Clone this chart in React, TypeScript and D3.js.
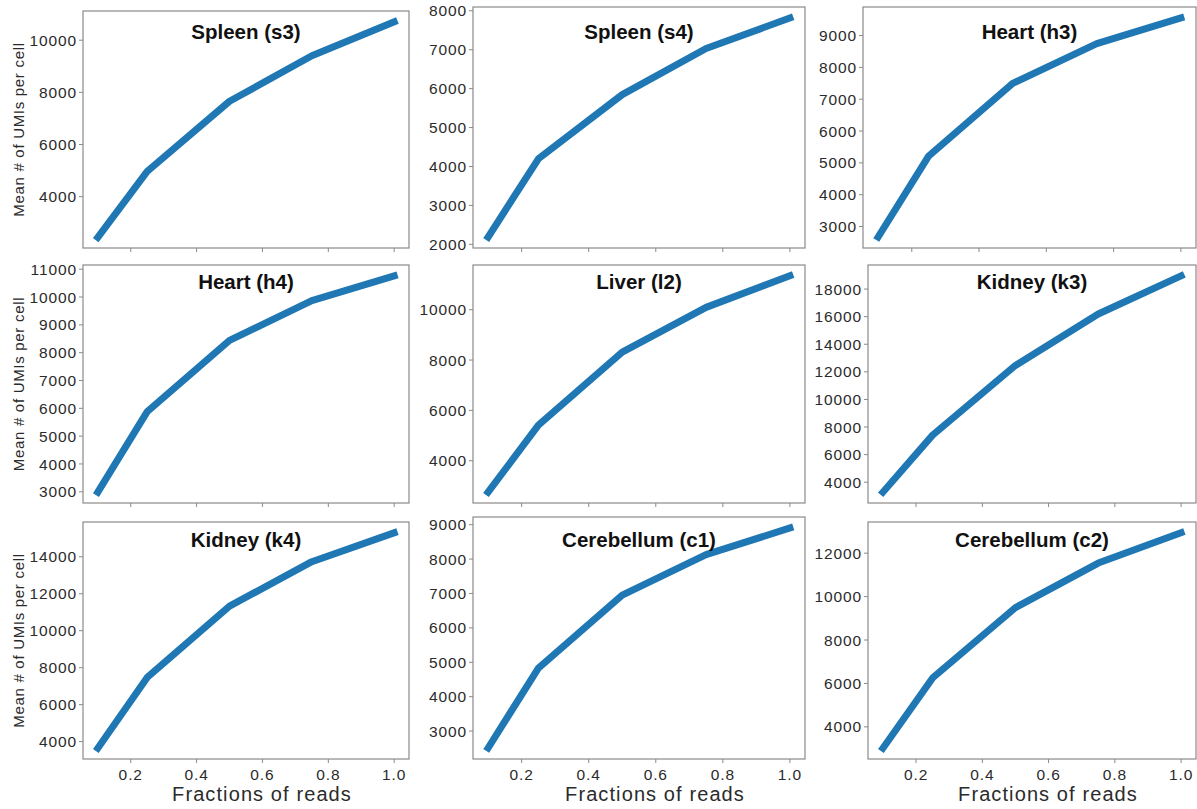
import React from 'react';
import * as d3 from 'd3';

// fraction of reads used for each subsample
const fractions = [0.1, 0.25, 0.5, 0.75, 1.0];
const xTicks = [0.2, 0.4, 0.6, 0.8, 1.0];

const titles = [
  'Spleen (s3)',
  'Spleen (s4)',
  'Heart (h3)',
  'Heart (h4)',
  'Liver (l2)',
  'Kidney (k3)',
  'Kidney (k4)',
  'Cerebellum (c1)',
  'Cerebellum (c2)',
];

// mean # of UMIs per cell
const spleenS3 = [2443, 4972, 7657, 9405, 10707];
const spleenS4 = [2188, 4198, 5846, 7030, 7816];
const heartH3 = [2670, 5211, 7497, 8743, 9552];
const heartH4 = [2986, 5879, 8440, 9869, 10762];
const liverL2 = [2750, 5412, 8312, 10092, 11346];
const kidneyK3 = [3278, 7414, 12465, 16196, 18960];
const kidneyK4 = [3642, 7470, 11331, 13733, 15298];
const cerebellumC1 = [2508, 4833, 6953, 8131, 8903];
const cerebellumC2 = [3015, 6253, 9491, 11544, 12940];

const series = [
  spleenS3,
  spleenS4,
  heartH3,
  heartH4,
  liverL2,
  kidneyK3,
  kidneyK4,
  cerebellumC1,
  cerebellumC2,
];

const yTicks = [
  [4000, 6000, 8000, 10000],
  [2000, 3000, 4000, 5000, 6000, 7000, 8000],
  [3000, 4000, 5000, 6000, 7000, 8000, 9000],
  [3000, 4000, 5000, 6000, 7000, 8000, 9000, 10000, 11000],
  [4000, 6000, 8000, 10000],
  [4000, 6000, 8000, 10000, 12000, 14000, 16000, 18000],
  [4000, 6000, 8000, 10000, 12000, 14000],
  [3000, 4000, 5000, 6000, 7000, 8000, 9000],
  [4000, 6000, 8000, 10000, 12000],
];

// panel boxes in page pixels
const boxes = [
  { left: 83, top: 11, right: 409, bottom: 248, titleY: 39 },
  { left: 473, top: 7, right: 805, bottom: 248, titleY: 39 },
  { left: 863, top: 7, right: 1196, bottom: 248, titleY: 39 },
  { left: 83, top: 265, right: 409, bottom: 503, titleY: 289 },
  { left: 473, top: 265, right: 805, bottom: 503, titleY: 289 },
  { left: 868, top: 265, right: 1196, bottom: 503, titleY: 289 },
  { left: 83, top: 522, right: 409, bottom: 759, titleY: 547 },
  { left: 473, top: 517, right: 805, bottom: 759, titleY: 547 },
  { left: 868, top: 522, right: 1196, bottom: 759, titleY: 547 },
];

const font = '"Liberation Sans", Arial, sans-serif';
const blue = '#1f77b4';
const spine = '#8a8a8a';
const ink = '#2b2b2b';
const fmtX = d3.format('.1f');

const Panel = ({ i }: { i: number }) => {
  const b = boxes[i];
  const values = series[i];
  const col = i % 3;
  const row = Math.floor(i / 3);

  const xPad = (d3.max(fractions)! - d3.min(fractions)!) * 0.05;
  const x = d3
    .scaleLinear()
    .domain([d3.min(fractions)! - xPad, d3.max(fractions)! + xPad])
    .range([b.left, b.right]);
  const [lo, hi] = d3.extent(values) as [number, number];
  const yPad = (hi - lo) * 0.05;
  const y = d3
    .scaleLinear()
    .domain([lo - yPad, hi + yPad])
    .range([b.bottom, b.top]);

  const line = d3
    .line<number>()
    .x((_, k) => x(fractions[k]))
    .y((d) => y(d));

  const cx = (b.left + b.right) / 2;
  const cy = (b.top + b.bottom) / 2;

  return (
    <g>
      <path
        d={line(values) || ''}
        fill="none"
        stroke={blue}
        strokeWidth={7}
        strokeLinejoin="round"
        strokeLinecap="square"
      />
      <rect
        x={b.left}
        y={b.top}
        width={b.right - b.left}
        height={b.bottom - b.top}
        fill="none"
        stroke={spine}
        strokeWidth={1.2}
      />
      {yTicks[i].map((t) => (
        <g key={t}>
          <line
            x1={b.left - 4}
            x2={b.left}
            y1={y(t)}
            y2={y(t)}
            stroke={spine}
          />
          <text
            x={b.left - 6}
            y={y(t)}
            dy="0.36em"
            textAnchor="end"
            fontSize={15.5}
            letterSpacing={0.9}
            fill={ink}
          >
            {t}
          </text>
        </g>
      ))}
      {xTicks.map((t) => (
        <g key={t}>
          <line
            x1={x(t)}
            x2={x(t)}
            y1={b.bottom}
            y2={b.bottom + 4}
            stroke={spine}
          />
          {row === 2 && (
            <text
              x={x(t)}
              y={b.bottom + 21}
              textAnchor="middle"
              fontSize={15.5}
              letterSpacing={0.9}
              fill={ink}
            >
              {fmtX(t)}
            </text>
          )}
        </g>
      ))}
      <text
        x={cx}
        y={b.titleY}
        textAnchor="middle"
        fontSize={20.5}
        fontWeight="bold"
        fill="#111"
      >
        {titles[i]}
      </text>
      {col === 0 && (
        <text
          transform={`translate(24,${cy}) rotate(-90)`}
          textAnchor="middle"
          fontSize={15}
          letterSpacing={0.7}
          fill={ink}
        >
          Mean # of UMIs per cell
        </text>
      )}
      {row === 2 && (
        <text
          x={cx + 16}
          y={801}
          textAnchor="middle"
          fontSize={20}
          letterSpacing={1.1}
          fill={ink}
        >
          Fractions of reads
        </text>
      )}
    </g>
  );
};

const App = () => (
  <svg
    width={1197}
    height={809}
    style={{ position: 'absolute', left: 0, top: 0, background: '#fff' }}
    fontFamily={font}
  >
    {titles.map((_, i) => (
      <Panel key={i} i={i} />
    ))}
  </svg>
);

export default App;
